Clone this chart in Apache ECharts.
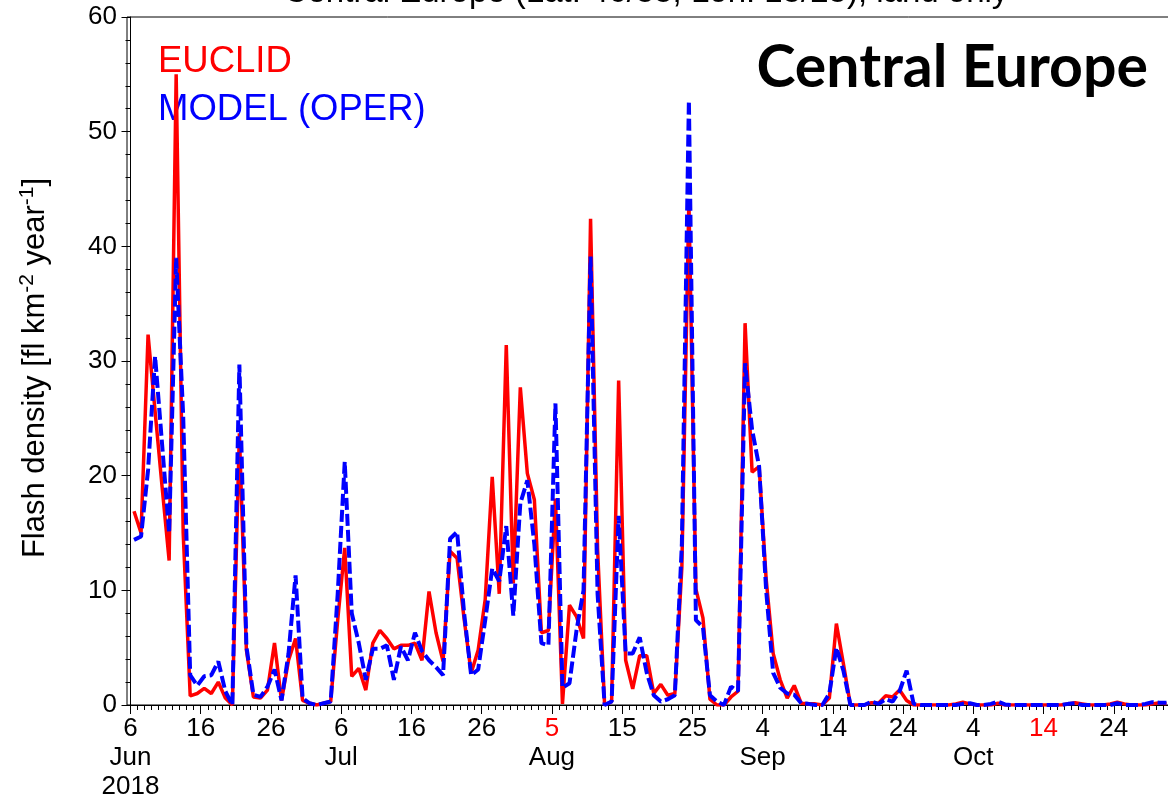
<!DOCTYPE html>
<html>
<head>
<meta charset="utf-8">
<title>Flash density - Central Europe</title>
<script src="https://cdn.jsdelivr.net/npm/echarts@6/dist/echarts.min.js"></script>
<style>
  html, body { margin: 0; padding: 0; background: #fff; }
  #chart { width: 1168px; height: 798px; }
</style>
</head>
<body>
<div id="chart"></div>
<script>
// daily values, index 0 = 6 Jun 2018
const euclid = [
  16.9, 15.0, 32.3, 25.6, 19.0, 12.6, 55.0, 15.0, 0.8, 1.0,
  1.45, 1.0, 2.0, 0.6, 0, 23.7, 4.8, 0.7, 0.6, 1.3,
  5.4, 0.4, 3.9, 5.8, 0.4, 0.15, 0, 0.15, 0.3, 7.4,
  13.7, 2.5, 3.2, 1.3, 5.4, 6.5, 5.8, 4.9, 5.2, 5.2,
  5.4, 3.9, 9.9, 6.3, 3.8, 13.4, 12.8, 7.5, 2.8, 4.8,
  9.2, 19.9, 9.7, 31.4, 10.6, 27.7, 20.2, 17.9, 6.3, 6.5,
  18.0, 0.1, 8.7, 7.7, 5.8, 42.4, 13.6, 0, 0.3, 28.3,
  3.9, 1.4, 4.3, 4.3, 1.0, 1.8, 0.85, 1.0, 12.0, 44.0,
  10.1, 7.6, 0.5, 0, 0, 0.7, 1.2, 33.3, 20.3, 20.8,
  11.0, 4.5, 2.2, 0.6, 1.7, 0.15, 0.1, 0.1, 0, 0.6,
  7.1, 3.6, 0, 0, 0, 0.2, 0.15, 0.8, 0.7, 1.3,
  0.4, 0, 0, 0, 0, 0, 0, 0.1, 0.25, 0.1,
  0, 0, 0, 0.15, 0, 0, 0, 0, 0, 0,
  0, 0, 0, 0.1, 0.2, 0.1, 0, 0, 0, 0.1,
  0.25, 0.1, 0, 0, 0, 0.1, 0.2, 0.1
];
const model = [
  14.4, 14.7, 20.5, 30.4, 22.7, 15.0, 39.0, 25.2, 2.6, 1.7,
  2.5, 2.6, 3.8, 1.2, 0, 29.7, 5.1, 0.9, 0.7, 1.6,
  3.1, 0.4, 4.5, 11.3, 0.6, 0.15, 0, 0.15, 0.3, 9.7,
  21.2, 8.0, 5.4, 2.2, 4.9, 4.9, 5.2, 2.2, 5.1, 3.9,
  6.3, 4.7, 3.9, 3.3, 2.6, 14.5, 15.1, 8.0, 2.6, 3.1,
  7.4, 11.9, 10.8, 15.6, 7.8, 17.6, 19.6, 14.0, 5.4, 5.2,
  26.3, 1.5, 1.9, 6.5, 10.0, 39.1, 9.7, 0, 0.3, 16.5,
  4.5, 4.5, 5.9, 2.8, 0.85, 0.3, 0.5, 0.85, 14.0, 52.7,
  7.4, 6.8, 0.85, 0.3, 0, 1.6, 1.2, 29.8, 24.0, 20.8,
  10.0, 2.8, 1.5, 1.0, 0.9, 0.15, 0.1, 0, 0, 1.0,
  5.0, 3.0, 0, 0, 0, 0.3, 0.1, 0.5, 0.3, 1.2,
  3.0, 0.1, 0, 0, 0, 0, 0, 0, 0.1, 0.15,
  0, 0, 0.1, 0.3, 0.05, 0, 0, 0, 0, 0,
  0, 0, 0, 0.1, 0.15, 0, 0, 0, 0, 0,
  0.15, 0, 0, 0, 0.1, 0.25, 0.2, 0.2
];

const tickDays = [0, 10, 20, 30, 40, 50, 60, 70, 80, 90, 100, 110, 120, 130, 140];
const tickDayLabels = ['6', '16', '26', '6', '16', '26', '5', '15', '25', '4', '14', '24', '4', '14', '24'];
const tickMonthLabels = ['Jun\n2018', '', '', 'Jul', '', '', 'Aug', '', '', 'Sep', '', '', 'Oct', '', ''];
const redTickDays = [60, 130];
const dayTicks = [];
for (let d = 0; d <= 148; d++) dayTicks.push(d);

const FONT = 'Liberation Sans, Arial, sans-serif';

const chart = echarts.init(document.getElementById('chart'), null, { renderer: 'canvas' });

function xLabel(value) {
  const k = tickDays.indexOf(value);
  if (k < 0) return '';
  const style = redTickDays.includes(value) ? 'r' : 'k';
  let s = `{${style}|${tickDayLabels[k]}}`;
  if (tickMonthLabels[k]) {
    s += tickMonthLabels[k].split('\n').map(t => `\n{k|${t}}`).join('');
  }
  return s;
}

const labelRich = {
  k: { color: '#000', fontSize: 26, lineHeight: 29, fontFamily: FONT },
  r: { color: '#ff0000', fontSize: 26, lineHeight: 29, fontFamily: FONT }
};

chart.setOption({
  animation: false,
  backgroundColor: '#fff',
  grid: {
    left: 127, right: -2, top: 17, bottom: 93,
    show: true, borderColor: '#000', borderWidth: 1, backgroundColor: 'transparent',
    containLabel: false, outerBoundsMode: 'none'
  },
  xAxis: [{
    type: 'value', min: -0.5, max: 148, position: 'bottom',
    axisLine: { show: true, onZero: false, lineStyle: { color: '#000', width: 1 } },
    axisTick: { show: true, length: 9, customValues: tickDays, lineStyle: { color: '#000' } },
    axisLabel: {
      show: true, customValues: tickDays, formatter: xLabel, rich: labelRich,
      margin: 9, hideOverlap: false, fontFamily: FONT, fontSize: 26, color: '#000'
    },
    splitLine: { show: false }
  }, {
    type: 'value', min: -0.5, max: 148, position: 'bottom', offset: 0,
    axisLine: { show: false, onZero: false },
    axisTick: { show: true, length: 5, customValues: dayTicks, lineStyle: { color: '#000' } },
    axisLabel: { show: false },
    splitLine: { show: false }
  }],
  yAxis: {
    type: 'value', min: 0, max: 60, interval: 10,
    axisLine: { show: true, lineStyle: { color: '#000', width: 1 } },
    axisTick: { show: true, length: 9, lineStyle: { color: '#000' } },
    minorTick: { show: true, splitNumber: 5, length: 5, lineStyle: { color: '#000' } },
    splitLine: { show: false },
    axisLabel: { fontSize: 26, color: '#000', margin: 10, fontFamily: FONT },
    name: '{a|Flash density [fl km}{s|-2}{a| year}{s|-1}{a|]}',
    nameLocation: 'middle', nameRotate: 90, nameGap: 73,
    nameTextStyle: {
      padding: [0, 14, 0, 0],
      rich: {
        a: { fontSize: 31, color: '#000', fontFamily: FONT, lineHeight: 37 },
        s: { fontSize: 21, color: '#000', fontFamily: FONT, lineHeight: 37, verticalAlign: 'top' }
      }
    }
  },
  series: [{
    name: 'EUCLID', type: 'line', xAxisIndex: 0,
    data: euclid.map((v, i) => [i + 0.5, v]),
    showSymbol: false, symbol: 'none', z: 2,
    lineStyle: { color: '#ff0000', width: 3.5 }
  }, {
    name: 'MODEL (OPER)', type: 'line', xAxisIndex: 0,
    data: model.map((v, i) => [i + 0.5, v]),
    showSymbol: false, symbol: 'none', z: 3,
    lineStyle: { color: '#0000ff', width: 4, type: [12, 4] }
  }],
  graphic: [{
    type: 'text', x: 646, y: -7,
    style: { text: 'Central Europe (Lat: 46/55, Lon: 15/25), land only', fontSize: 33, fontFamily: FONT, fill: '#000', align: 'center', verticalAlign: 'middle' }
  }, {
    type: 'text', x: 158, y: 62,
    style: { text: 'EUCLID', fontSize: 36.5, fontFamily: FONT, fill: '#ff0000', verticalAlign: 'middle' }
  }, {
    type: 'text', x: 158, y: 110,
    style: { text: 'MODEL (OPER)', fontSize: 36.5, fontFamily: FONT, fill: '#0000ff', verticalAlign: 'middle' }
  }, {
    type: 'text', x: 1148, y: 68,
    style: { text: 'Central Europe', fontSize: 59, fontWeight: 'bold', fontFamily: 'Lato, Open Sans, sans-serif', fill: '#000', align: 'right', verticalAlign: 'middle' }
  }]
});
</script>
</body>
</html>
